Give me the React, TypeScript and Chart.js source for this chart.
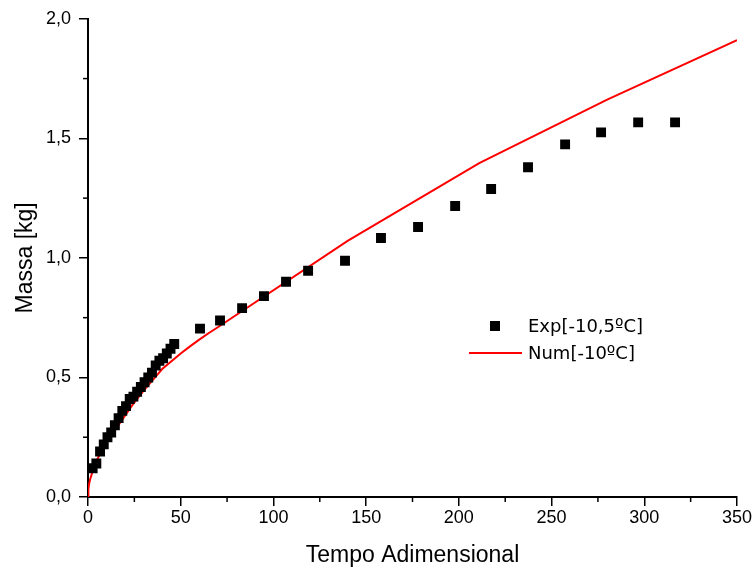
import React, { useEffect, useRef } from "react";
import { Chart, registerables } from "chart.js";

Chart.register(...registerables);

const expX = [2.5, 4.5, 6.5, 8.5, 10.5, 12.5, 14.5, 16.5, 18.5, 20.5, 22.5, 24.5, 26.5, 28.5, 30.5, 32.5, 34.5, 36.5, 38.5, 40.5, 42.5, 44.5, 46.5, 60.4, 71.2, 83.1, 94.9, 106.8, 118.7, 138.6, 158.0, 178.0, 198.0, 217.4, 237.3, 257.3, 276.7, 296.7, 316.6];
const expY = [0.12, 0.14, 0.19, 0.22, 0.25, 0.27, 0.3, 0.33, 0.36, 0.38, 0.41, 0.42, 0.44, 0.46, 0.48, 0.5, 0.52, 0.55, 0.57, 0.58, 0.6, 0.62, 0.64, 0.704, 0.738, 0.79, 0.84, 0.9, 0.946, 0.988, 1.083, 1.129, 1.217, 1.288, 1.379, 1.475, 1.525, 1.567, 1.567];

const numX = [0, 0.2, 0.6, 1.2, 2, 3, 4.5, 6.5, 9, 12, 15, 19, 24, 30, 35, 40, 45, 50, 55, 60, 65, 70, 140, 211, 280, 350];
const numY = [0, 0.03, 0.055, 0.075, 0.095, 0.12, 0.15, 0.18, 0.215, 0.25, 0.285, 0.33, 0.385, 0.445, 0.49, 0.535, 0.568, 0.6, 0.63, 0.658, 0.685, 0.71, 1.071, 1.396, 1.662, 1.911];

const xTicks = [0, 50, 100, 150, 200, 250, 300, 350];
const yTicks = [0, 0.5, 1.0, 1.5, 2.0];
const expLabel = "Exp[-10,5ºC]";
const numLabel = "Num[-10ºC]";
const xTitle = "Tempo Adimensional";
const yTitle = "Massa [kg]";

const minorTicksPlugin = {
  id: "minorTicks",
  afterDraw(chart: any) {
    const ctx = chart.ctx;
    const xs = chart.scales.x;
    const ys = chart.scales.y;
    const area = chart.chartArea;
    ctx.save();
    ctx.strokeStyle = "#000";
    ctx.lineWidth = 1.5;
    for (let i = 0; i < xTicks.length - 1; i++) {
      const v = (xTicks[i] + xTicks[i + 1]) / 2;
      const px = xs.getPixelForValue(v);
      ctx.beginPath();
      ctx.moveTo(px, area.bottom);
      ctx.lineTo(px, area.bottom + 5);
      ctx.stroke();
    }
    for (let i = 0; i < yTicks.length - 1; i++) {
      const v = (yTicks[i] + yTicks[i + 1]) / 2;
      const py = ys.getPixelForValue(v);
      ctx.beginPath();
      ctx.moveTo(area.left, py);
      ctx.lineTo(area.left - 5, py);
      ctx.stroke();
    }
    ctx.restore();
  },
};

const legendPlugin = {
  id: "customLegend",
  afterDraw(chart: any) {
    const ctx = chart.ctx;
    const ds0 = chart.data.datasets[0];
    const ds1 = chart.data.datasets[1];
    ctx.save();
    ctx.font = '18px "DejaVu Sans"';
    ctx.textBaseline = "middle";
    ctx.fillStyle = ds0.backgroundColor;
    ctx.fillRect(490, 321, 10, 10);
    ctx.fillStyle = "#000";
    ctx.fillText(ds0.label, 528, 327);
    ctx.strokeStyle = ds1.borderColor;
    ctx.lineWidth = 2;
    ctx.beginPath();
    ctx.moveTo(469, 353);
    ctx.lineTo(522, 353);
    ctx.stroke();
    ctx.fillText(ds1.label, 528, 354);
    ctx.restore();
  },
};

export default function App() {
  const ref = useRef<HTMLCanvasElement>(null);
  useEffect(() => {
    document.body.style.margin = "0";
    const canvas = ref.current!;
    const chart = new Chart(canvas, {
      type: "scatter",
      data: {
        datasets: [
          {
            label: expLabel,
            data: expX.map((x, i) => ({ x, y: expY[i] })),
            pointStyle: "rect",
            pointRadius: 7,
            backgroundColor: "#000",
            borderColor: "#000",
            borderWidth: 0,
            showLine: false,
          },
          {
            label: numLabel,
            data: numX.map((x, i) => ({ x, y: numY[i] })),
            showLine: true,
            pointRadius: 0,
            borderColor: "#ff0000",
            backgroundColor: "#ff0000",
            borderWidth: 2,
            tension: 0,
          },
        ],
      },
      options: {
        responsive: false,
        animation: false,
        layout: { padding: { left: 0, right: 18, top: 18, bottom: 0 } },
        plugins: { legend: { display: false }, tooltip: { enabled: false } },
        scales: {
          x: {
            type: "linear",
            min: 0,
            max: 350,
            afterBuildTicks: (s: any) => {
              s.ticks = xTicks.map((v) => ({ value: v }));
            },
            afterFit: (s: any) => {
              s.height = 74;
            },
            border: { display: true, color: "#000", width: 2 },
            grid: { drawOnChartArea: false, drawTicks: true, tickLength: 9, color: "#000", lineWidth: 1.5 },
            ticks: {
              color: "#000",
              font: { family: '"Liberation Sans", Arial', size: 18 },
              padding: 1,
              callback: (v: any) => String(v),
            },
            title: {
              display: true,
              text: xTitle,
              color: "#000",
              font: { family: '"Liberation Sans", Arial', size: 23 },
              padding: { top: 4, bottom: 2 },
            },
          },
          y: {
            type: "linear",
            min: 0,
            max: 2,
            afterBuildTicks: (s: any) => {
              s.ticks = yTicks.map((v) => ({ value: v }));
            },
            afterFit: (s: any) => {
              s.width = 88;
            },
            border: { display: true, color: "#000", width: 2 },
            grid: { drawOnChartArea: false, drawTicks: true, tickLength: 9, color: "#000", lineWidth: 1.5 },
            ticks: {
              color: "#000",
              font: { family: '"Liberation Sans", Arial', size: 18 },
              padding: 8,
              callback: (v: any) => Number(v).toFixed(1).replace(".", ","),
            },
            title: {
              display: true,
              text: yTitle,
              color: "#000",
              font: { family: '"Liberation Sans", Arial', size: 23 },
              padding: { top: 12, bottom: 4 },
            },
          },
        },
      },
      plugins: [minorTicksPlugin, legendPlugin],
    });
    return () => chart.destroy();
  }, []);
  return <canvas ref={ref} width={755} height={571} style={{ display: "block", width: 755, height: 571 }} />;
}
